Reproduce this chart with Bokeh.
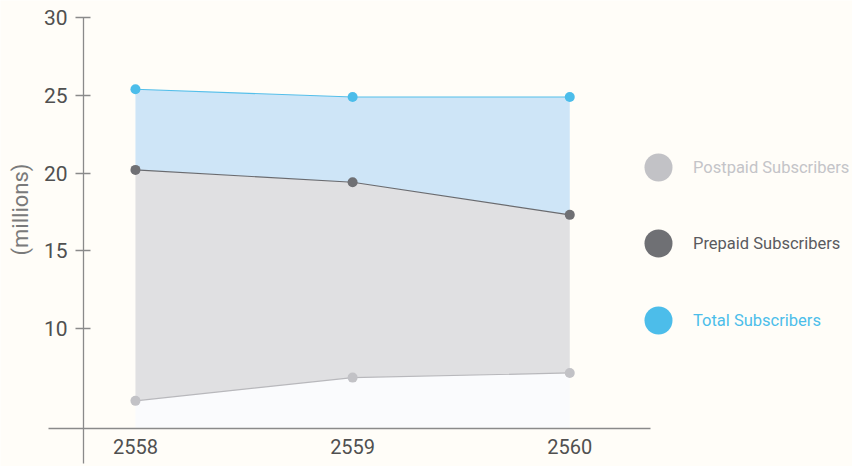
import math
from bokeh.plotting import figure
from bokeh.models import LinearAxis, FixedTicker, Legend, LegendItem, Range1d, Label
from bokeh.embed import file_html
from bokeh.resources import INLINE

# ---- data ----
years = [2558, 2559, 2560]
total = [25.4, 24.9, 24.9]
prepaid = [20.2, 19.4, 17.3]
postpaid = [5.3, 6.8, 7.1]
y_ticks = [10, 15, 20, 25, 30]
series_names = ["Postpaid Subscribers", "Prepaid Subscribers", "Total Subscribers"]
y_title = "(millions)"

BG = "#fffdf8"
BASE = 3.52          # where the horizontal axis crosses
YAXIS_X = 2557.761   # where the vertical axis crosses

p = figure(width=852, height=466,
           x_range=Range1d(2557.3785, 2561.302), y_range=Range1d(1.065, 31.129),
           x_axis_location=None, y_axis_location=None,
           toolbar_location=None, output_backend="svg",
           min_border=0,
           background_fill_color=BG, border_fill_color=BG, outline_line_color=None)
p.grid.grid_line_color = None

# areas
p.varea(x=years, y1=BASE, y2=postpaid, fill_color="#fafbfd")
p.varea(x=years, y1=postpaid, y2=prepaid, fill_color="#e0e0e2")
p.varea(x=years, y1=prepaid, y2=total, fill_color="#cee5f7")

# lines
p.line(years, postpaid, line_color="#b8b8bc", line_width=1.2)
p.line(years, prepaid, line_color="#6a6b6f", line_width=1.1)
p.line(years, total, line_color="#55bfea", line_width=1.1)

# markers
r_post = p.scatter(years, postpaid, size=10, fill_color="#c2c2c6", line_color=None)
r_pre = p.scatter(years, prepaid, size=10, fill_color="#6f7074", line_color=None)
r_tot = p.scatter(years, total, size=10, fill_color="#4cbdea", line_color=None)

# axes
yax = LinearAxis(fixed_location=YAXIS_X, ticker=FixedTicker(ticks=y_ticks),
                 bounds=(1.26, 30.03))
yax.axis_line_color = "#8a8a8a"
yax.axis_line_width = 1.3
yax.major_tick_line_color = "#8a8a8a"
yax.major_tick_line_width = 1.3
yax.major_tick_in = 7
yax.major_tick_out = 8
yax.minor_tick_in = 0
yax.minor_tick_out = 0
yax.major_label_standoff = 8
yax.major_label_text_font = "Roboto"
yax.major_label_text_font_size = "21px"
yax.major_label_text_color = "#505050"
p.add_layout(yax, "left")

p.add_layout(Label(x=20, y=257, x_units="screen", y_units="screen", text=y_title,
                   angle=math.pi / 2, text_align="center", text_baseline="middle",
                   text_font="Roboto", text_font_size="22px", text_color="#7a7a7a"))

xax = LinearAxis(fixed_location=BASE, ticker=FixedTicker(ticks=years), bounds=(2557.6, 2560.372))
xax.axis_line_color = "#8a8a8a"
xax.axis_line_width = 1.3
xax.major_tick_in = 0
xax.major_tick_out = 0
xax.minor_tick_in = 0
xax.minor_tick_out = 0
xax.major_label_standoff = 11
xax.major_label_text_font = "Roboto"
xax.major_label_text_font_size = "20px"
xax.major_label_text_color = "#505050"
p.add_layout(xax, "below")

# legends (one per item so each label keeps its own colour)
legend_specs = [
    (r_post, series_names[0], "#c4c4c8", 264),
    (r_pre, series_names[1], "#5a5a5e", 188),
    (r_tot, series_names[2], "#4cbdea", 111),
]
for r, name, col, ly in legend_specs:
    lg = Legend(items=[LegendItem(label=name, renderers=[r])],
                location=(623, ly), glyph_width=70, glyph_height=70,
                label_standoff=0, padding=0, margin=0, spacing=0,
                border_line_color=None, background_fill_alpha=0,
                label_text_font="Roboto", label_text_font_size="16.5px",
                label_text_color=col)
    p.add_layout(lg)

open("out.html", "w").write(file_html(p, INLINE))
